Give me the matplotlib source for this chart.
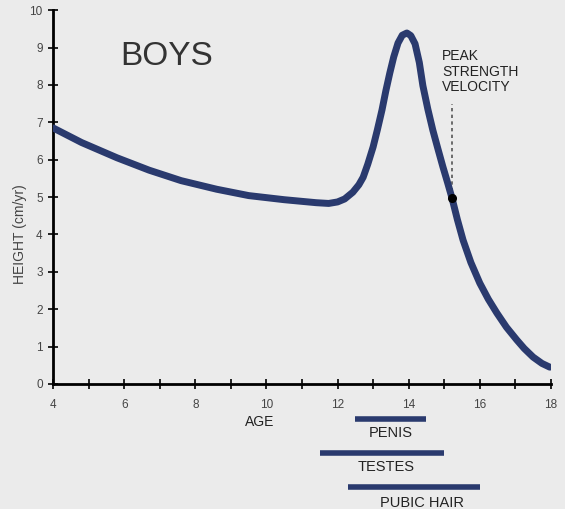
import matplotlib.pyplot as plt

# growth velocity curve
age = [4.0, 4.8, 5.8, 6.7, 7.6, 8.6, 9.5, 10.5, 11.4, 11.75, 12.0, 12.2,
       12.43, 12.6, 12.72, 12.85, 13.0, 13.12, 13.25, 13.36, 13.47, 13.58,
       13.7, 13.82, 13.95, 14.06, 14.18, 14.3, 14.4, 14.54, 14.68, 14.82,
       14.96, 15.1, 15.22, 15.37, 15.53, 15.75, 16.0, 16.24, 16.48, 16.75,
       17.04, 17.25, 17.5, 17.75, 17.97]
velocity = [6.85, 6.46, 6.05, 5.72, 5.44, 5.21, 5.04, 4.93, 4.85, 4.83, 4.87,
            4.95, 5.13, 5.33, 5.53, 5.88, 6.34, 6.8, 7.33, 7.85, 8.32, 8.75,
            9.12, 9.33, 9.39, 9.32, 9.1, 8.6, 7.98, 7.35, 6.79, 6.3, 5.82,
            5.37, 4.97, 4.4, 3.85, 3.25, 2.7, 2.27, 1.9, 1.52, 1.18, 0.95,
            0.72, 0.55, 0.45]

peak_age = 15.22
peak_val = 4.97

# development stage ranges
stages = ['PENIS', 'TESTES', 'PUBIC HAIR']
stage_start = [12.5, 11.5, 12.3]
stage_end = [14.5, 15.0, 16.0]

bg = '#ebebeb'
navy = '#2a3a6e'
txt = '#222222'
font = 'Liberation Sans'

fig = plt.figure(figsize=(5.65, 5.09), dpi=100, facecolor=bg)
ax = fig.add_axes([0.094, 0.2456, 0.881, 0.7344])
ax.set_facecolor(bg)

ax.plot(age, velocity, color=navy, lw=5, solid_capstyle='round',
        solid_joinstyle='round', zorder=3)
ax.plot([peak_age], [peak_val], 'o', color='black', ms=5.5, zorder=4)
ax.plot([peak_age, peak_age], [peak_val, 7.5], color='#555555', lw=1.2,
        ls=(0, (2, 2)), zorder=2)

ax.set_xlim(4, 18)
ax.set_ylim(0, 10)
ax.set_xticks(range(4, 19, 2))
ax.set_xticks(range(5, 18, 2), minor=True)
ax.set_yticks(range(0, 11))
for s in ['top', 'right']:
    ax.spines[s].set_visible(False)
for s in ['left', 'bottom']:
    ax.spines[s].set_linewidth(2)
ax.tick_params(which='both', direction='inout', length=7, width=1.2)
ax.tick_params(axis='x', pad=7)
ax.tick_params(axis='y', pad=4)
for lab in ax.get_xticklabels() + ax.get_yticklabels():
    lab.set_fontsize(8.5)
    lab.set_color('#444444')
    lab.set_family(font)

ax.set_ylabel('HEIGHT (cm/yr)', fontsize=10, color='#444444', family=font)
ax.yaxis.set_label_coords(-0.052, 0.4)

ax.text(7.2, 8.77, 'BOYS', fontsize=24, color='#333333', ha='center',
        va='center', family=font)
ax.text(14.94, 8.96, 'PEAK\nSTRENGTH\nVELOCITY', fontsize=10, color=txt,
        ha='left', va='top', linespacing=1.15, family=font)

ax.text(9.8, -1.02, 'AGE', fontsize=10, ha='center', va='center',
        color=txt, family=font)

bar_y = [-0.94, -1.84, -2.76]
label_y = [-1.31, -2.22, -3.18]
label_x = [13.5, 13.36, 14.37]
for name, a, b, by, ly, lx in zip(stages, stage_start, stage_end, bar_y,
                                    label_y, label_x):
    ax.plot([a, b], [by, by], color=navy, lw=4, clip_on=False,
            solid_capstyle='butt')
    ax.text(lx, ly, name, fontsize=10.5, ha='center', va='center',
            color=txt, clip_on=False, family=font)

fig.savefig('out.png', dpi=100, facecolor=bg)
